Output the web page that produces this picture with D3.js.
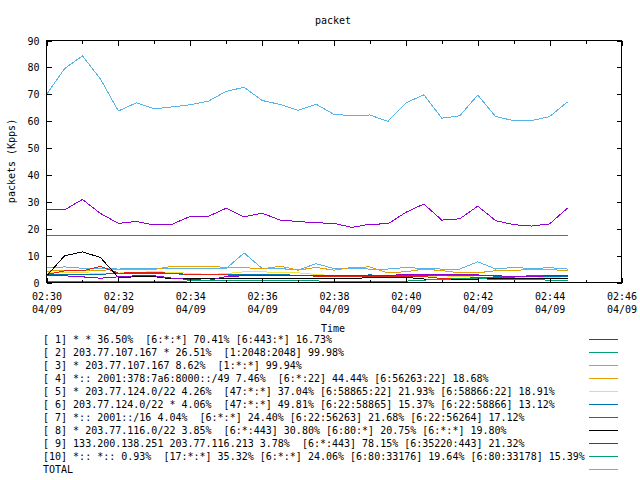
<!DOCTYPE html>
<html><head><meta charset="utf-8">
<script src="https://cdn.jsdelivr.net/npm/d3@7"></script>
<style>
body{margin:0;background:#fff;}
text{font-family:"DejaVu Sans Mono","Liberation Mono",monospace;font-size:10px;fill:#000;white-space:pre;}
</style></head><body>
<script>
const times = ["02:30:00","02:30:30","02:31:00","02:31:30","02:32:00","02:32:30","02:33:00","02:33:30","02:34:00","02:34:30",
"02:35:00","02:35:30","02:36:00","02:36:30","02:37:00","02:37:30","02:38:00","02:38:30","02:39:00","02:39:30",
"02:40:00","02:40:30","02:41:00","02:41:30","02:42:00","02:42:30","02:43:00","02:43:30","02:44:00","02:44:30"];
const day = "04/09";
const s1 = [27.3,27.0,30.9,25.7,22.0,22.7,21.4,21.7,24.6,24.6,27.6,24.4,25.8,23.2,22.7,22.2,22.0,20.5,21.7,21.8,26.1,29.2,23.2,23.7,28.4,23.0,21.5,21.0,21.8,27.7];
const s2 = [17.3,17.6,17.6,17.3,17.4,17.6,17.3,17.6,17.6,17.3,17.6,17.6,17.6,17.6,17.6,17.6,17.6,17.3,17.6,17.6,17.3,17.3,17.3,17.6,17.6,17.6,17.3,17.6,17.6,17.3];
const s3 = [5.4,5.8,5.3,5.2,5.0,5.2,5.2,5.2,5.2,5.2,5.2,11.0,5.2,5.2,4.6,7.0,5.2,5.2,5.0,5.0,5.6,5.2,5.0,5.0,7.7,5.0,5.6,5.2,5.5,5.0];
const s4 = [4.2,4.6,4.5,4.5,5.0,5.0,4.8,6.1,6.1,6.1,5.6,5.6,5.0,6.1,4.6,5.6,4.6,5.6,5.8,3.6,4.0,5.0,4.4,3.6,3.6,4.4,4.4,5.0,4.8,4.4];
const s5 = [3.5,3.8,3.6,3.4,3.5,3.8,4.0,3.8,3.4,3.0,3.3,4.0,4.0,3.6,3.6,3.0,2.5,2.4,2.0,2.0,2.1,2.2,2.5,2.2,2.0,2.0,1.8,1.6,1.8,1.6];
const s6 = [2.9,3.0,3.1,3.0,3.5,3.4,3.4,3.3,2.9,2.8,2.8,2.8,2.8,2.9,2.7,2.6,2.6,2.7,2.8,2.7,2.6,2.6,2.6,2.5,2.5,2.4,2.4,2.3,2.3,2.2];
const s7 = [3.0,4.3,4.3,6.0,3.5,3.6,3.7,3.4,3.0,2.9,2.8,2.7,2.6,2.5,2.5,2.4,2.4,2.3,2.3,2.3,2.2,2.2,1.5,1.5,1.8,1.8,2.0,2.6,2.6,2.5];
const s8 = [2.4,9.9,11.4,9.3,1.9,2.1,2.2,1.3,1.5,1.6,1.6,1.6,1.5,1.4,1.4,1.4,1.4,1.4,1.9,1.9,1.9,1.3,1.2,1.2,1.3,1.4,1.4,1.4,1.4,1.4];
const s9 = [2.5,2.5,2.1,1.6,2.1,2.5,2.5,1.6,1.1,0.8,2.2,2.5,2.5,2.5,2.5,2.6,2.6,2.6,2.6,2.6,3.0,3.0,2.8,2.8,2.8,2.6,2.1,2.1,2.6,2.6];
const s10 = [0.3,0.3,0.3,0.3,0.3,0.3,0.3,0.3,0.6,0.6,0.8,0.8,0.6,0.6,0.6,0.6,0.3,0.3,0.3,0.3,0.5,0.9,1.2,1.4,1.4,1.2,1.0,1.0,0.9,0.9];
const total = [69.9,79.5,84.3,75.7,63.8,66.8,64.6,65.3,66.1,67.4,71.1,72.6,67.7,66.2,64.0,66.3,62.5,62.1,62.3,59.9,66.8,69.8,61.1,62.0,69.7,61.7,60.2,60.2,61.7,67.2];
const labels = [
"[ 1] * * 36.50%  [6:*:*] 70.41% [6:443:*] 16.73%",
"[ 2] 203.77.107.167 * 26.51%  [1:2048:2048] 99.98%",
"[ 3] * 203.77.107.167 8.62%  [1:*:*] 99.94%",
"[ 4] *:: 2001:378:7a6:8000::/49 7.46%  [6:*:22] 44.44% [6:56263:22] 18.68%",
"[ 5] * 203.77.124.0/22 4.26%  [47:*:*] 37.04% [6:58865:22] 21.93% [6:58866:22] 18.91%",
"[ 6] 203.77.124.0/22 * 4.06%  [47:*:*] 49.81% [6:22:58865] 15.37% [6:22:58866] 13.12%",
"[ 7] *:: 2001::/16 4.04%  [6:*:*] 24.40% [6:22:56263] 21.68% [6:22:56264] 17.12%",
"[ 8] * 203.77.116.0/22 3.85%  [6:*:443] 30.80% [6:80:*] 20.75% [6:*:*] 19.80%",
"[ 9] 133.200.138.251 203.77.116.213 3.78%  [6:*:443] 78.15% [6:35220:443] 21.32%",
"[10] *:: *:: 0.93%  [17:*:*] 35.32% [6:*:*] 24.06% [6:80:33176] 19.64% [6:80:33178] 15.39%",
"TOTAL"];
const colors = ["#9400d3","#009e73","#56b4e9","#e69f00","#f0e442","#0072b2","#e51e10","#000000","#9400d3","#009e73","#56b4e9"];
const majorTicks = ["02:30:00","02:32:00","02:34:00","02:36:00","02:38:00","02:40:00","02:42:00","02:44:00","02:46:00"];
const minorTicks = ["02:31:00","02:33:00","02:35:00","02:37:00","02:39:00","02:41:00","02:43:00","02:45:00"];
const yTicks = [0,10,20,30,40,50,60,70,80,90];
const title = "packet", xTitle = "Time", yTitle = "packets (Kpps)";

const series = [s1,s2,s3,s4,s5,s6,s7,s8,s9,s10,total];
const parse = d3.timeParse("%m/%d %H:%M:%S");
const T = times.map(t => parse(day + " " + t));

const L = 46.5, R = 621.5, TOP = 40.5, B = 282.5;
const x = d3.scaleTime().domain([parse(day+" 02:30:00"), parse(day+" 02:46:00")]).range([L, R]);
const y = d3.scaleLinear().domain([0, 90]).range([B, TOP]);

const svg = d3.select("body").append("svg").attr("width", 640).attr("height", 480);

// data lines
const line = d3.line().x((d,i) => x(T[i])).y(d => y(d));
svg.append("g").selectAll("path").data(series).join("path")
  .attr("d", d => line(d)).attr("fill", "none")
  .attr("stroke", (d,i) => colors[i]).attr("stroke-width", 1)
  .attr("shape-rendering", "crispEdges");

// axes
const tickMaj = x => x.attr("shape-rendering","crispEdges");
const fmtT = d3.timeFormat("%H:%M"), fmtD = d3.timeFormat("%m/%d");
const gb = svg.append("g").attr("transform", `translate(0,${B})`)
  .call(d3.axisBottom(x).tickValues(majorTicks.map(t => parse(day+" "+t))).tickSize(-5).tickFormat(""));
gb.selectAll(".tick text").remove();
gb.selectAll(".tick").append("text").attr("text-anchor","middle").call(t => {
  t.append("tspan").attr("x",0).attr("y",17.5).text(d => fmtT(d));
  t.append("tspan").attr("x",0).attr("y",30.5).text(d => fmtD(d));
});
svg.append("g").attr("transform", `translate(0,${B})`)
  .call(d3.axisBottom(x).tickValues(minorTicks.map(t => parse(day+" "+t))).tickSize(-3).tickFormat(""));
svg.append("g").attr("transform", `translate(0,${TOP})`)
  .call(d3.axisTop(x).tickValues(majorTicks.map(t => parse(day+" "+t))).tickSize(-5).tickFormat(""));
svg.append("g").attr("transform", `translate(0,${TOP})`)
  .call(d3.axisTop(x).tickValues(minorTicks.map(t => parse(day+" "+t))).tickSize(-3).tickFormat(""));
const gl = svg.append("g").attr("transform", `translate(${L},0)`)
  .call(d3.axisLeft(y).tickValues(yTicks).tickSize(-5).tickPadding(7));
gl.selectAll(".tick text").attr("dy","0.35em").attr("font-family",null).attr("font-size",null);
svg.append("g").attr("transform", `translate(${R},0)`)
  .call(d3.axisRight(y).tickValues(yTicks).tickSize(-5).tickFormat(""));
svg.selectAll(".domain").remove();
svg.selectAll(".tick line").attr("stroke","#000").attr("shape-rendering","crispEdges");
svg.selectAll("g").attr("font-family", null).attr("font-size", null);

svg.append("rect").attr("x",L).attr("y",TOP).attr("width",R-L).attr("height",B-TOP)
  .attr("fill","none").attr("stroke","#000").attr("shape-rendering","crispEdges");

// titles
svg.append("text").attr("x",333).attr("y",23.5).attr("text-anchor","middle").text(title);
svg.append("text").attr("x",333).attr("y",331.5).attr("text-anchor","middle").text(xTitle);
svg.append("text").attr("transform","translate(14.5,161) rotate(-90)").attr("text-anchor","middle").text(yTitle);

// legend
const lg = svg.append("g").selectAll("g").data(labels).join("g")
  .attr("transform",(d,i) => `translate(0,${339.5 + i*13})`);
lg.append("text").attr("x",43).attr("y",0).attr("dy","0.35em").text(d => d);
lg.append("line").attr("x1",589).attr("x2",618).attr("y1",0).attr("y2",0)
  .attr("stroke",(d,i) => colors[i]).attr("shape-rendering","crispEdges");
</script></body></html>
